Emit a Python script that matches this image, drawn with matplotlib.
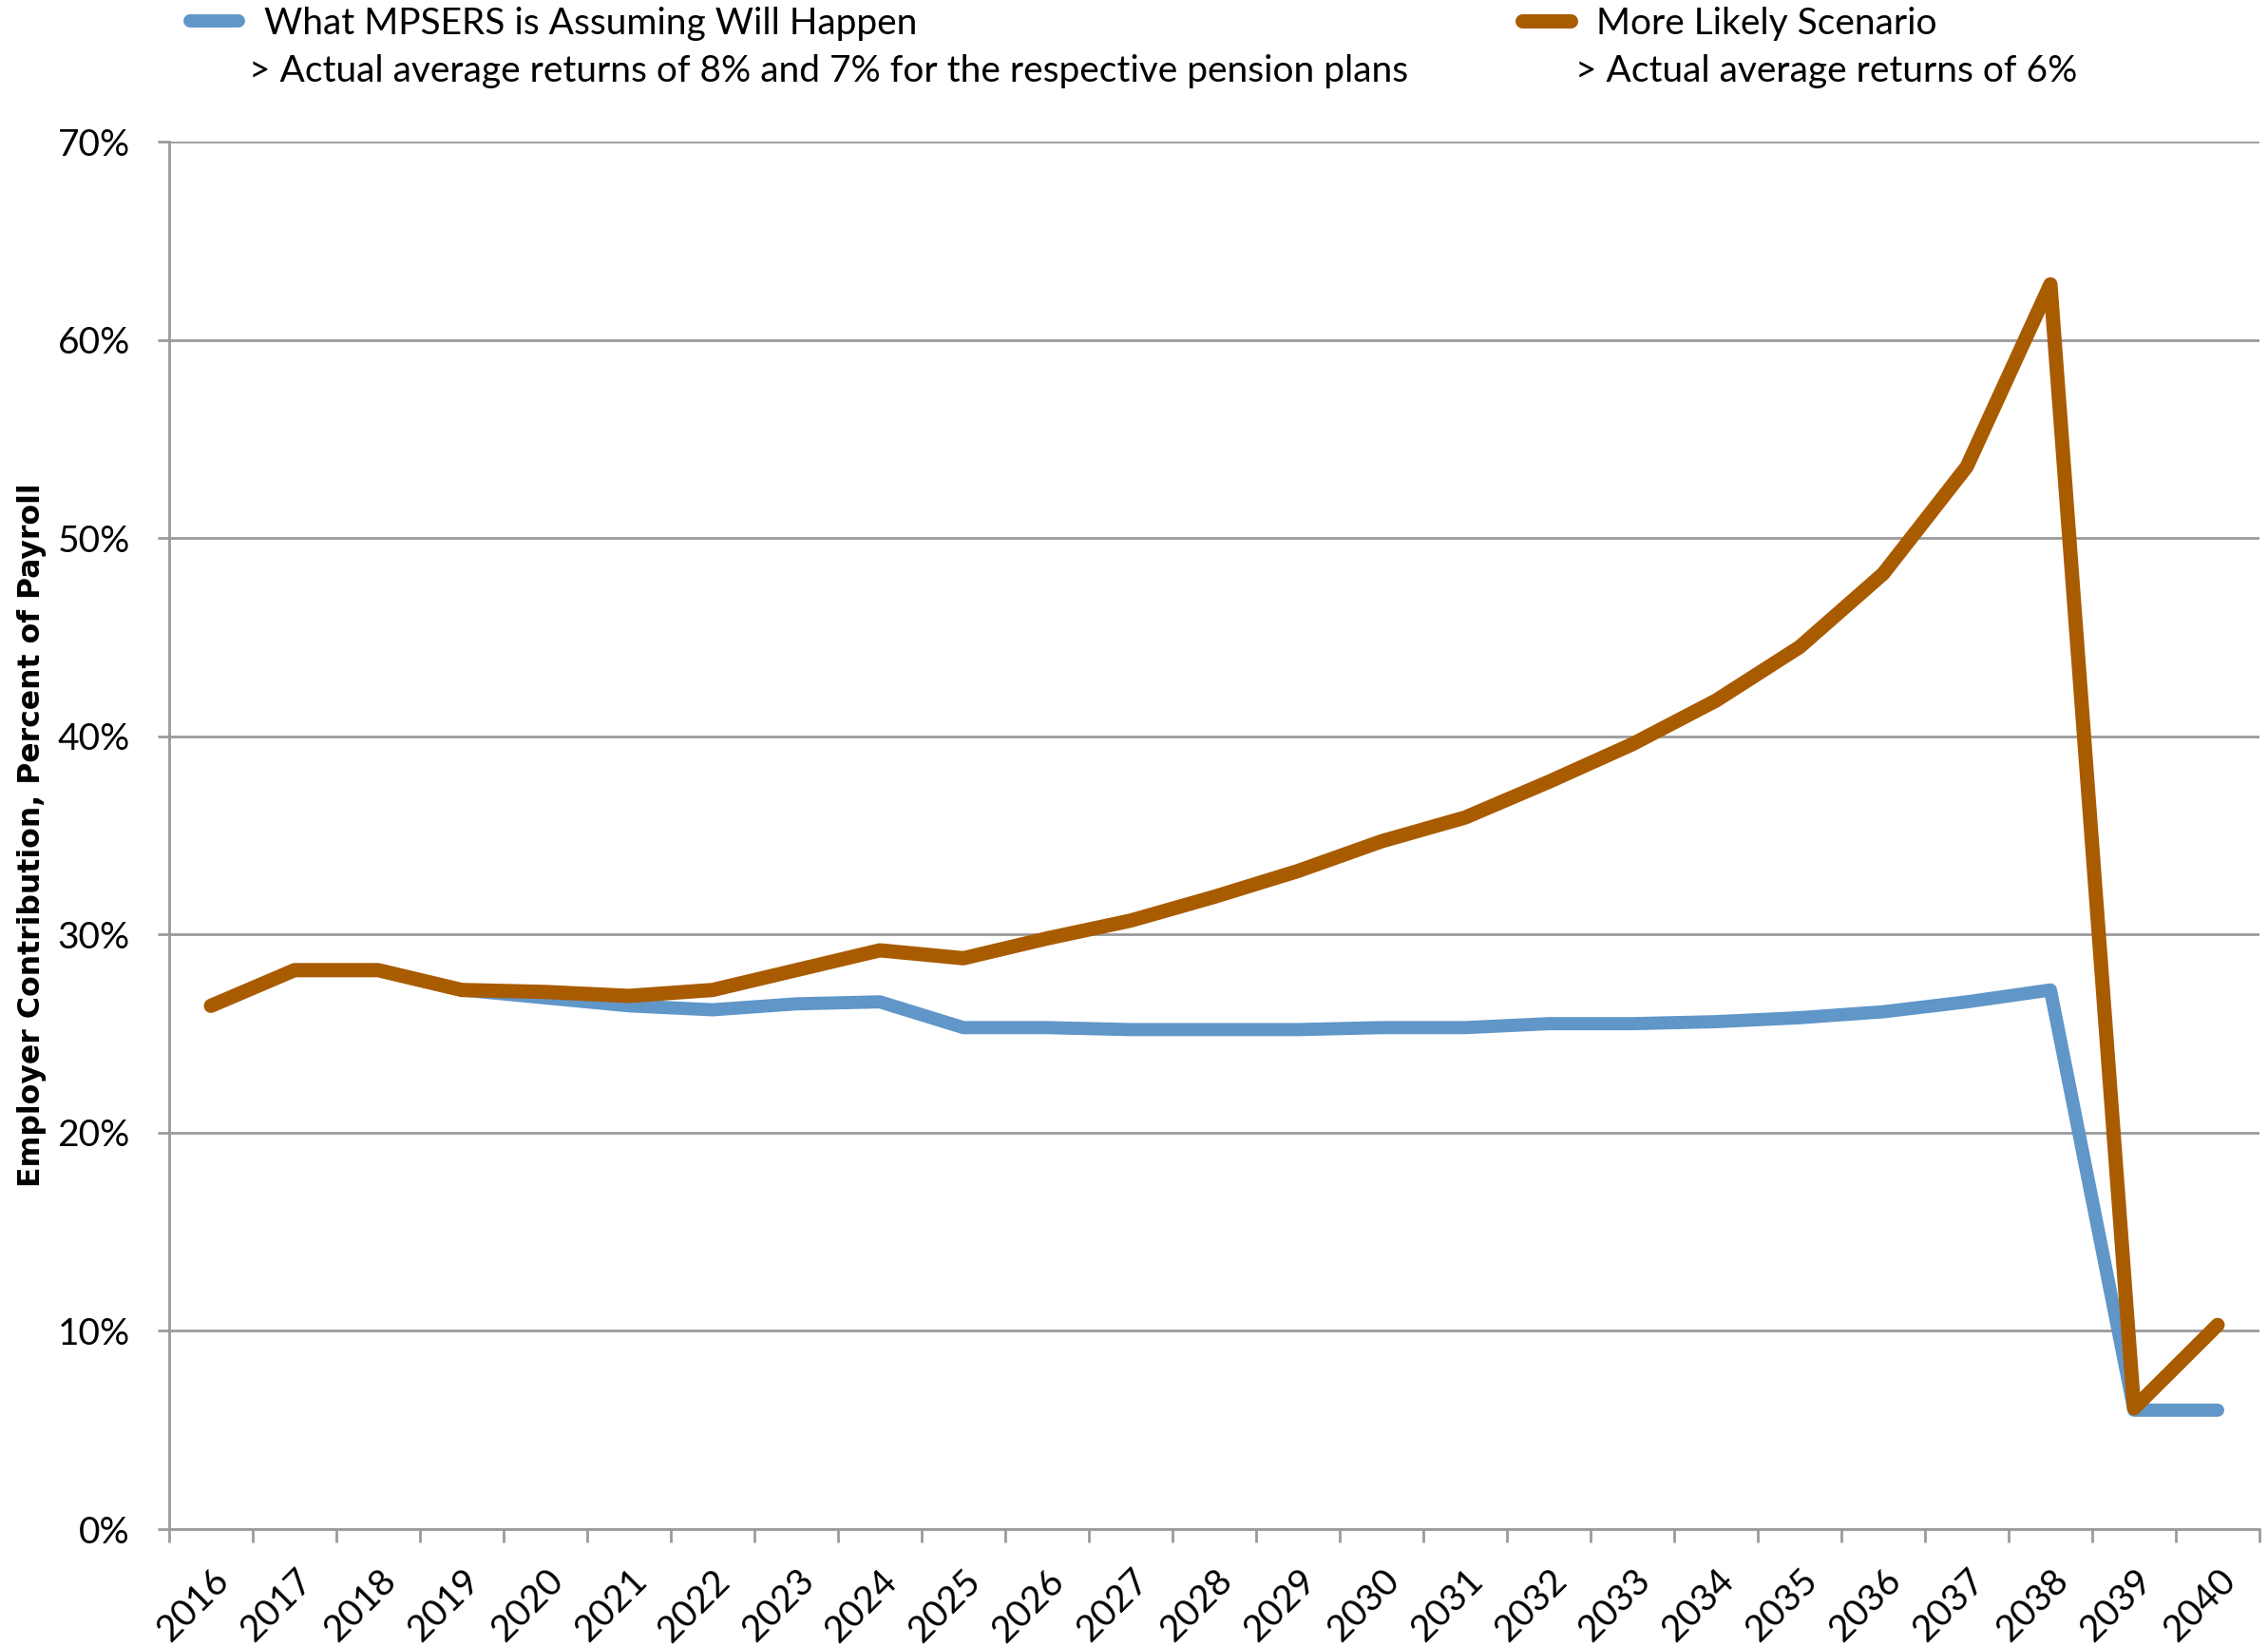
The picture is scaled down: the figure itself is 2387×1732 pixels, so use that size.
import numpy as np
import matplotlib.pyplot as plt
from matplotlib.ticker import FixedLocator, FuncFormatter

# ── DATA ───────────────────────────────────────────────────────────────────────
years = ['2016', '2017', '2018', '2019', '2020', '2021', '2022', '2023', '2024',
         '2025', '2026', '2027', '2028', '2029', '2030', '2031', '2032', '2033',
         '2034', '2035', '2036', '2037', '2038', '2039', '2040']

assumed = [26.4, 28.2, 28.2, 27.2, 26.8, 26.4, 26.2, 26.5, 26.6, 25.3, 25.3, 25.2,
           25.2, 25.2, 25.3, 25.3, 25.5, 25.5, 25.6, 25.8, 26.1, 26.6, 27.2, 6.0, 6.0]
likely = [26.4, 28.2, 28.2, 27.2, 27.1, 26.9, 27.2, 28.2, 29.2, 28.8, 29.8, 30.7,
          31.9, 33.2, 34.7, 35.9, 37.7, 39.6, 41.8, 44.5, 48.2, 53.6, 62.8, 6.1, 10.3]

series_names = ['What MPSERS is Assuming Will Happen', 'More Likely Scenario']
series_notes = ['> Actual average returns of 8% and 7% for the respective pension plans',
                '> Actual average returns of 6%']

# ── STYLE ──────────────────────────────────────────────────────────────────────
plt.rcParams['font.family'] = ['Lato', 'DejaVu Sans']
FS = 28
GRAY = '#9a9a9a'
BLUE = '#6096c8'
ORANGE = '#a95b00'
W, H = 2387, 1732

fig = plt.figure(figsize=(W / 100, H / 100), dpi=100)
ax = fig.add_axes([178 / W, 123 / H, 2200 / W, 1460 / H])

x = np.arange(len(years))
l1, = ax.plot(x, assumed, color=BLUE, lw=10, solid_capstyle='round',
              solid_joinstyle='round', zorder=3)
l2, = ax.plot(x, likely, color=ORANGE, lw=10.8, solid_capstyle='round',
              solid_joinstyle='round', zorder=4)

# axes
ax.set_xlim(-0.5, len(years) - 0.5)
ax.set_ylim(0, 70)
ax.set_yticks(np.arange(0, 71, 10))
ax.yaxis.set_major_formatter(FuncFormatter(lambda v, p: f'{v:.0f}%'))
ax.grid(axis='y', color=GRAY, lw=2, zorder=0)
ax.set_axisbelow(True)

ax.set_xticks(x)
ax.set_xticklabels(years, rotation=45, ha='right', va='top', rotation_mode='anchor')
ax.xaxis.set_minor_locator(FixedLocator(np.arange(-0.5, len(years), 1)))
ax.tick_params(axis='x', which='major', length=0, pad=26, labelsize=FS)
ax.tick_params(axis='x', which='minor', length=10, width=2, color=GRAY)
ax.tick_params(axis='y', length=8.6, width=2, color=GRAY, pad=21, labelsize=FS)

for s in ['top', 'right']:
    ax.spines[s].set_visible(False)
for s in ['left', 'bottom']:
    ax.spines[s].set_color(GRAY)
    ax.spines[s].set_linewidth(2)

ax.set_ylabel('Employer Contribution, Percent of Payroll', fontsize=22.7,
              fontweight='bold', family='DejaVu Sans')
ax.yaxis.set_label_coords(-0.0586, 0.5)

# legend (two entries, each with a note line under it)
leg_x = [200, 1602]
note_x = [262, 1658]
for handle, name, note, lx, nx in zip([l1, l2], series_names, series_notes, leg_x, note_x):
    fig.legend(handles=[handle], labels=[name], loc='center left',
               bbox_to_anchor=(lx / W, 1 - 25 / H), frameon=False,
               borderpad=0, borderaxespad=0, handlelength=1.3,
               handletextpad=0.7, fontsize=FS)
    fig.text(nx / W, 1 - 86 / H, note, fontsize=FS, va='baseline')

fig.savefig('out.png', dpi=100)
